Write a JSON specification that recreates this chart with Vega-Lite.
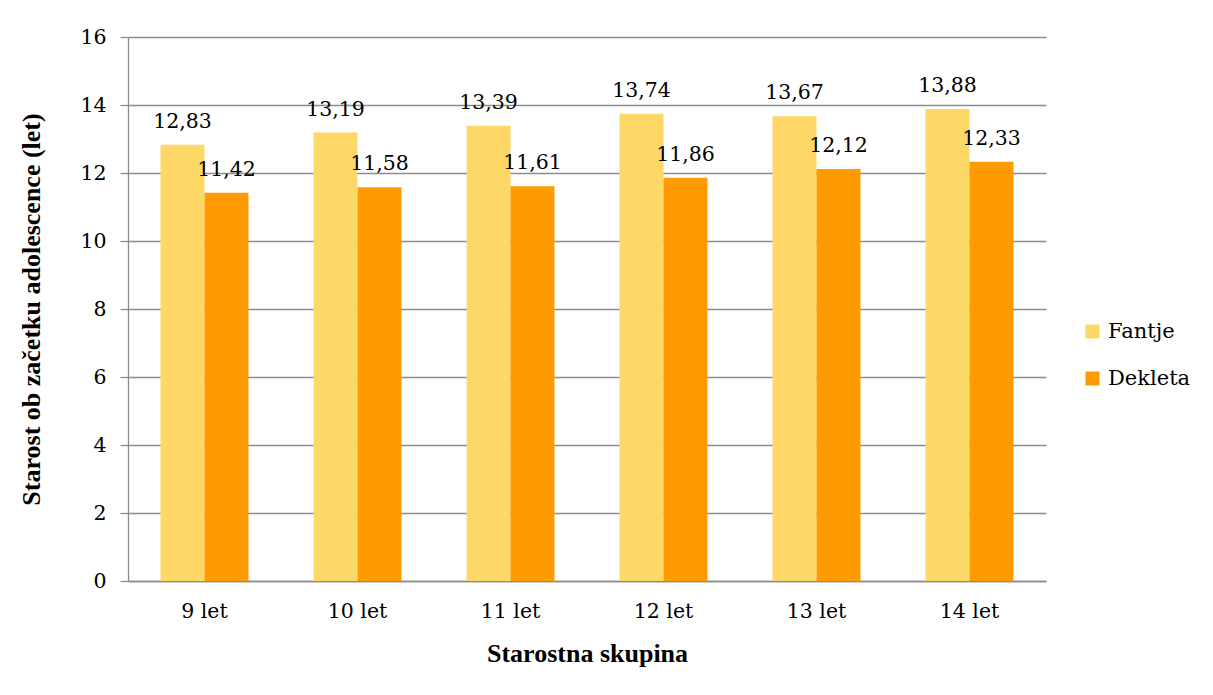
{
  "$schema": "https://vega.github.io/schema/vega-lite/v6.json",
  "autosize": "none",
  "width": 918,
  "height": 544,
  "padding": {"left": 128, "top": 37, "right": 167, "bottom": 114},
  "background": "white",
  "data": {
    "values": [
      {"skupina": "9 let", "spol": "Fantje", "starost": 12.83},
      {"skupina": "9 let", "spol": "Dekleta", "starost": 11.42},
      {"skupina": "10 let", "spol": "Fantje", "starost": 13.19},
      {"skupina": "10 let", "spol": "Dekleta", "starost": 11.58},
      {"skupina": "11 let", "spol": "Fantje", "starost": 13.39},
      {"skupina": "11 let", "spol": "Dekleta", "starost": 11.61},
      {"skupina": "12 let", "spol": "Fantje", "starost": 13.74},
      {"skupina": "12 let", "spol": "Dekleta", "starost": 11.86},
      {"skupina": "13 let", "spol": "Fantje", "starost": 13.67},
      {"skupina": "13 let", "spol": "Dekleta", "starost": 12.12},
      {"skupina": "14 let", "spol": "Fantje", "starost": 13.88},
      {"skupina": "14 let", "spol": "Dekleta", "starost": 12.33}
    ]
  },
  "encoding": {
    "x": {
      "field": "skupina",
      "type": "nominal",
      "sort": ["9 let", "10 let", "11 let", "12 let", "13 let", "14 let"],
      "scale": {"paddingInner": 0.425, "paddingOuter": 0.2125},
      "axis": {
        "title": "Starostna skupina",
        "labelAngle": 0,
        "ticks": false,
        "labelPadding": 20,
        "titlePadding": 19,
        "grid": false
      }
    },
    "xOffset": {"field": "spol", "type": "nominal", "sort": ["Fantje", "Dekleta"]},
    "y": {
      "field": "starost",
      "type": "quantitative",
      "scale": {"domain": [0, 16]},
      "axis": {
        "title": "Starost ob začetku adolescence (let)",
        "values": [0, 2, 4, 6, 8, 10, 12, 14, 16],
        "tickSize": 8,
        "labelPadding": 14,
        "titlePadding": 35,
        "grid": true
      }
    }
  },
  "layer": [
    {
      "mark": {"type": "bar"},
      "encoding": {
        "color": {
          "field": "spol",
          "type": "nominal",
          "sort": ["Fantje", "Dekleta"],
          "scale": {"domain": ["Fantje", "Dekleta"], "range": ["#FDD866", "#FF9A00"]},
          "legend": {
            "title": null,
            "orient": "none",
            "legendX": 954,
            "legendY": 284,
            "symbolType": "square",
            "symbolSize": 196,
            "symbolStrokeWidth": 0,
            "symbolOpacity": 1,
            "labelFontSize": 21,
            "labelFont": "DejaVu Serif",
            "labelColor": "black",
            "labelOffset": 5,
            "rowPadding": 25
          }
        }
      }
    },
    {
      "mark": {"type": "text", "baseline": "alphabetic", "dy": -17, "font": "DejaVu Serif", "fontSize": 20.5, "color": "black"},
      "encoding": {
        "text": {"field": "starost", "type": "quantitative", "format": ".2f"}
      }
    }
  ],
  "config": {
    "locale": {
      "number": {"decimal": ",", "thousands": ".", "grouping": [3], "currency": ["", " €"]}
    },
    "view": {"stroke": null},
    "font": "DejaVu Serif",
    "axis": {
      "labelFont": "DejaVu Serif",
      "labelFontSize": 20.5,
      "labelColor": "black",
      "titleFont": "Liberation Serif",
      "titleFontSize": 26,
      "titleFontWeight": "bold",
      "titleColor": "black",
      "domainColor": "#8c8c8c",
      "tickColor": "#8c8c8c",
      "gridColor": "#8c8c8c",
      "domainWidth": 1.3,
      "tickWidth": 1.3,
      "gridWidth": 1.3
    }
  }
}
